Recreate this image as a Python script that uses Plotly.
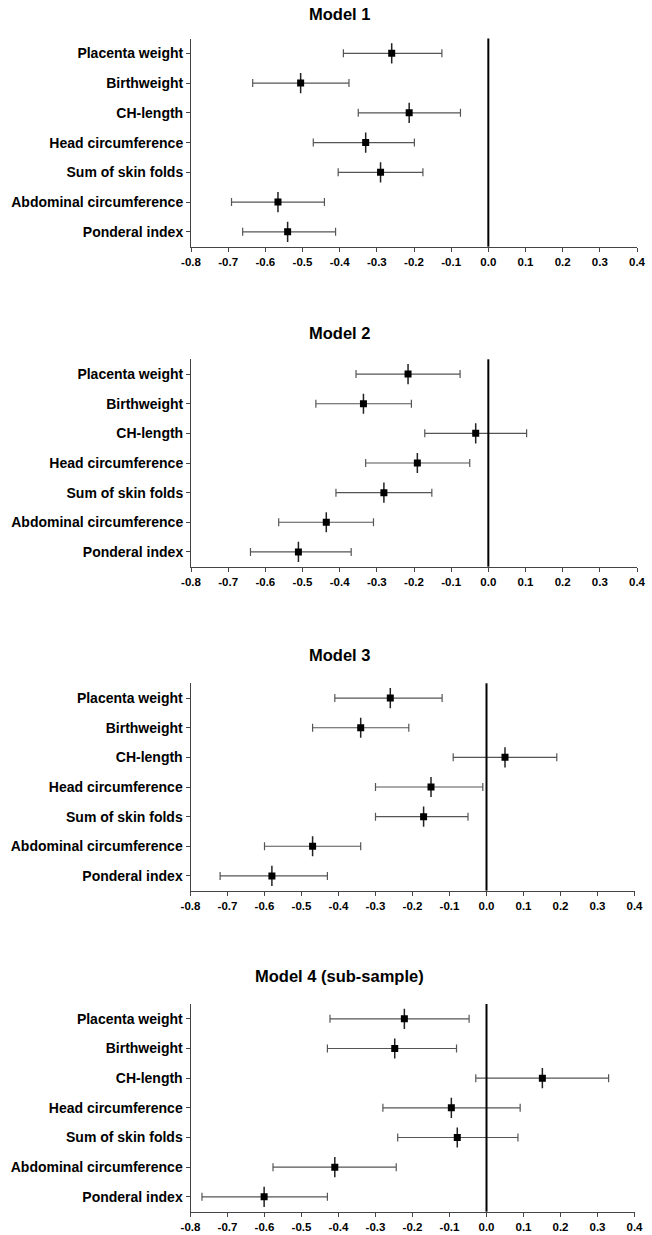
import plotly.graph_objects as go

categories = ["Placenta weight", "Birthweight", "CH-length", "Head circumference",
              "Sum of skin folds", "Abdominal circumference", "Ponderal index"]
titles = ["Model 1", "Model 2", "Model 3", "Model 4 (sub-sample)"]

m1_est = [-0.26, -0.505, -0.213, -0.33, -0.29, -0.566, -0.54]
m1_lo = [-0.39, -0.634, -0.35, -0.471, -0.404, -0.691, -0.661]
m1_hi = [-0.125, -0.375, -0.075, -0.199, -0.176, -0.441, -0.411]

m2_est = [-0.216, -0.336, -0.034, -0.191, -0.281, -0.436, -0.511]
m2_lo = [-0.356, -0.464, -0.171, -0.33, -0.41, -0.564, -0.64]
m2_hi = [-0.076, -0.207, 0.103, -0.05, -0.152, -0.309, -0.369]

m3_est = [-0.26, -0.34, 0.05, -0.15, -0.17, -0.47, -0.58]
m3_lo = [-0.41, -0.47, -0.09, -0.30, -0.30, -0.60, -0.72]
m3_hi = [-0.12, -0.21, 0.19, -0.01, -0.05, -0.34, -0.43]

m4_est = [-0.222, -0.248, 0.151, -0.095, -0.079, -0.41, -0.601]
m4_lo = [-0.423, -0.43, -0.029, -0.28, -0.24, -0.577, -0.769]
m4_hi = [-0.047, -0.081, 0.33, 0.091, 0.085, -0.244, -0.43]

tick_vals = [-0.8, -0.7, -0.6, -0.5, -0.4, -0.3, -0.2, -0.1, 0.0, 0.1, 0.2, 0.3, 0.4]
tick_text = ["%.1f" % v for v in tick_vals]

models = [(m1_est, m1_lo, m1_hi), (m2_est, m2_lo, m2_hi),
          (m3_est, m3_lo, m3_hi), (m4_est, m4_lo, m4_hi)]

W, H = 652, 1235
# pixel layout in page coords (left, right, top, bottom) of each plot area
areas = [(191, 637, 38.5, 246.7), (191, 637, 359.3, 566.7),
         (190.5, 634.5, 683.3, 890.7), (190.5, 634.5, 1004, 1211.7)]
title_y = [13.5, 332.7, 655, 976]
title_x = 339

FONT = "Liberation Sans, Arial, sans-serif"

fig = go.Figure()
layout = dict(width=W, height=H, margin=dict(l=0, r=0, t=0, b=0),
              plot_bgcolor="white", paper_bgcolor="white", showlegend=False)
shapes = []
annotations = []
ypos = list(range(len(categories)))
for i, (est, lo, hi) in enumerate(models):
    n = i + 1
    xa = "x" if n == 1 else "x%d" % n
    ya = "y" if n == 1 else "y%d" % n
    plus = [h - e for e, h in zip(est, hi)]
    minus = [e - l for e, l in zip(est, lo)]
    fig.add_trace(go.Scatter(
        x=est, y=ypos, mode="markers", xaxis=xa, yaxis=ya,
        marker=dict(symbol="square", size=7, color="black"),
        error_x=dict(type="data", symmetric=False, array=plus, arrayminus=minus,
                     color="#555555", thickness=1.2, width=4),
        error_y=dict(type="constant", value=0.34, color="#222222", thickness=1.5, width=0),
        hoverinfo="skip"))
    l, r, t, b = areas[i]
    xk = "xaxis" if n == 1 else "xaxis%d" % n
    yk = "yaxis" if n == 1 else "yaxis%d" % n
    layout[xk] = dict(domain=[l / W, r / W], anchor=ya, range=[-0.8, 0.4], automargin=False,
                      tickvals=tick_vals, ticktext=tick_text, ticks="outside",
                      ticklen=4, tickwidth=1, tickcolor="#444444",
                      showline=True, linecolor="#444444", linewidth=1,
                      showgrid=False, zeroline=False,
                      tickfont=dict(family=FONT, size=11.5, color="black", weight="bold"))
    layout[yk] = dict(domain=[1 - b / H, 1 - t / H], anchor=xa, range=[6.5, -0.5], automargin=False,
                      tickvals=ypos, ticktext=categories, ticks="outside",
                      ticklen=4, tickwidth=1, tickcolor="#444444",
                      showline=True, linecolor="#444444", linewidth=1,
                      showgrid=False, zeroline=False,
                      tickfont=dict(family=FONT, size=14, color="black", weight="bold"))
    shapes.append(dict(type="line", xref=xa, yref=ya + " domain", x0=0, x1=0, y0=0, y1=1,
                       line=dict(color="black", width=2)))
    annotations.append(dict(text=titles[i], xref="paper", yref="paper",
                            x=title_x / W, y=1 - title_y[i] / H,
                            xanchor="center", yanchor="middle", showarrow=False,
                            font=dict(family=FONT, size=16.5, color="black", weight="bold")))

layout["shapes"] = shapes
layout["annotations"] = annotations
fig.update_layout(**layout)
fig.write_html("out.html", config={"displayModeBar": False},
               post_script="document.body.style.margin='0';document.body.style.overflow='hidden';")
